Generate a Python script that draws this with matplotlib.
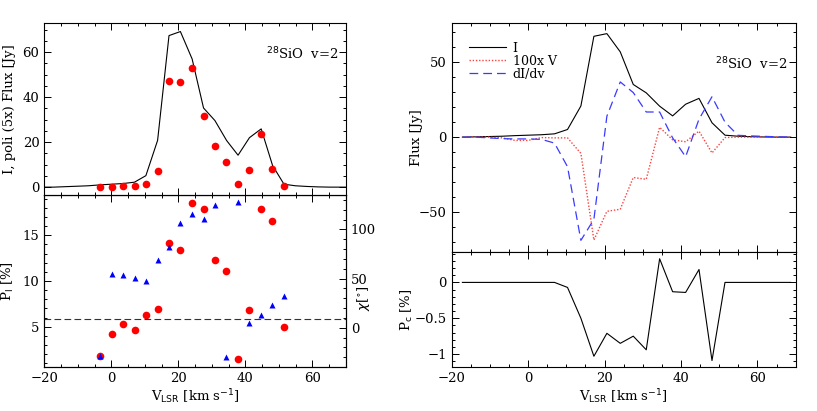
import matplotlib
matplotlib.use("Agg")
import matplotlib.pyplot as plt
from matplotlib.ticker import MultipleLocator

plt.rcParams['font.family'] = ['DejaVu Serif']
plt.rcParams['font.size'] = 9.5
plt.rcParams['axes.linewidth'] = 0.8

# --- spectrum channels (km/s) ---
v = [-17.2, -13.8, -10.3, -6.9, -3.4, 0.0, 3.5, 6.9, 10.3, 13.8, 17.2, 20.6, 24.1,
     27.5, 30.9, 34.4, 37.8, 41.2, 44.7, 48.1, 51.5, 54.9, 58.4, 61.8, 65.2, 68.7]
stokes_i = [0.0, 0.2, 0.4, 0.6, 1.0, 1.3, 1.6, 2.2, 5.1, 20.8, 67.4, 69.2, 57.0,
            35.2, 29.6, 20.7, 14.2, 22.0, 25.9, 9.6, 1.3, 0.6, 0.3, 0.1, 0.0, 0.0]
v_100x = [0.0, 0.0, 0.0, -0.5, -2.2, -2.2, -0.3, -0.5, -0.5, -10.9, -68.8, -49.6, -48.2,
          -27.0, -28.2, 6.6, -1.8, -3.1, 4.0, -10.6, -0.3, 0.0, 0.0, 0.0, 0.0, 0.0]
didv = [0.0, 0.0, -0.5, -1.0, -1.2, -1.2, -1.5, -4.0, -19.8, -69.0, -55.0, 14.0, 36.9,
        29.8, 16.8, 16.8, -0.5, -13.1, 12.0, 27.0, 10.0, 1.2, 0.8, 0.5, 0.2, 0.0]
p_circ = [0, 0, 0, 0, 0, 0, 0, 0, -0.07, -0.50, -1.03, -0.71, -0.85,
          -0.75, -0.94, 0.33, -0.13, -0.14, 0.18, -1.09, 0, 0, 0, 0, 0, 0]

# line in the left panel runs to the axis edges
v_edge = [-20.0, 70.0]
i_edge = [0.0, 0.0]

# --- linear polarization channels ---
v_pol = [-3.3, 0.1, 3.5, 7.0, 10.4, 13.8, 17.2, 20.6, 24.1, 27.5, 30.9, 34.3,
         37.8, 41.2, 44.6, 48.0, 51.4]
poli_5x = [0.1, 0.1, 0.5, 0.6, 1.5, 7.3, 47.4, 46.8, 53.0, 31.8, 18.1, 11.3,
           1.2, 7.4, 23.5, 8.2, 0.4]
p_lin = [1.8, 4.24, 5.25, 4.67, 6.27, 6.89, 14.1, 13.44, 18.5, 17.87, 12.27, 11.07,
         1.44, 6.82, 17.9, 16.53, 4.96]
chi = [-28.9, 55.1, 53.4, 50.7, 47.3, 68.4, 82.0, 107.0, 115.6, 110.2, 124.5, -30.0,
       127.9, 4.4, 12.9, 23.1, 32.0]
p_lin_ref = 5.8

xlabel = r'V$_{\rm LSR}$ [km s$^{-1}$]'
line_label = r'$^{28}$SiO  v=2'

W, H = 817, 411
fig = plt.figure(figsize=(W / 100, H / 100), dpi=100)


def box(x0, y0, x1, y1):
    return [x0 / W, 1 - y1 / H, (x1 - x0) / W, (y1 - y0) / H]


ax_lt = fig.add_axes(box(44.3, 23, 346, 195))
ax_lb = fig.add_axes(box(44.3, 195, 346, 367))
ax_rt = fig.add_axes(box(451.7, 22.7, 795.7, 252.3))
ax_rb = fig.add_axes(box(451.7, 252.3, 795.7, 367))


def style(ax, ymaj, ymin, right=True):
    ax.set_xlim(-20, 70)
    ax.xaxis.set_major_locator(MultipleLocator(20))
    ax.xaxis.set_minor_locator(MultipleLocator(5))
    ax.yaxis.set_major_locator(MultipleLocator(ymaj))
    ax.yaxis.set_minor_locator(MultipleLocator(ymin))
    ax.tick_params(which='both', direction='in', top=True, right=right, width=0.7)
    ax.tick_params(which='major', length=5)
    ax.tick_params(which='minor', length=2.5)


# --- left top: I and polarized intensity ---
ax = ax_lt
ax.plot([v_edge[0]] + v + [v_edge[1]], [i_edge[0]] + stokes_i + [i_edge[1]],
        color='black', lw=0.8)
ax.plot(v_pol, poli_5x, 'o', color='red', ms=5.5, mec='none')
style(ax, 20, 5)
ax.set_ylim(-3.5, 73)
ax.set_xticklabels([])
ax.set_ylabel('I, poli (5x) Flux [Jy]')
ax.yaxis.set_label_coords(-0.093, 0.5)
ax.text(0.975, 0.82, line_label, transform=ax.transAxes, ha='right', va='center')

# --- left bottom: P_l and chi ---
ax = ax_lb
ax.plot(v_pol, p_lin, 'o', color='red', ms=5.5, mec='none', zorder=2)
ax.axhline(p_lin_ref, color='#333333', lw=0.8, ls=(0, (6, 3)))
style(ax, 5, 1, right=False)
ax.set_ylim(0.6, 19.4)
ax.set_ylabel(r'P$_{\rm l}$ [%]')
ax.yaxis.set_label_coords(-0.093, 0.5)
ax.set_xlabel(xlabel, labelpad=2)

ax2 = ax_lb.twinx()
ax2.plot(v_pol, chi, '^', color='blue', ms=4.5, mec='none', zorder=3)
ax2.set_ylim(-40, 135)
ax2.yaxis.set_major_locator(MultipleLocator(50))
ax2.yaxis.set_minor_locator(MultipleLocator(10))
ax2.tick_params(which='both', direction='in', width=0.7)
ax2.tick_params(which='major', length=5)
ax2.tick_params(which='minor', length=2.5)
ax2.set_ylabel(r'$\chi$[$^{\circ}$]')
ax2.yaxis.set_label_coords(1.03, 0.40)
ax_lb.set_zorder(ax2.get_zorder() - 1)
ax_lb.patch.set_visible(False)

# --- right top: I, V, dI/dv ---
ax = ax_rt
ax.plot(v, stokes_i, color='black', lw=0.8, label='I')
ax.plot(v, v_100x, color='#ff4040', lw=1.0, ls=(0, (1, 1.3)), label='100x V')
ax.plot(v, didv, color='#3a3aff', lw=0.9, ls=(0, (7, 4)), label='dI/dv')
style(ax, 50, 10)
ax.set_ylim(-77, 76.5)
ax.set_xticklabels([])
ax.set_ylabel('Flux [Jy]')
ax.yaxis.set_label_coords(-0.083, 0.5)
ax.text(0.975, 0.82, line_label, transform=ax.transAxes, ha='right', va='center')
ax.legend(loc='upper left', frameon=False, fontsize=9, handlelength=3.0,
          handletextpad=0.5, labelspacing=0.0, borderaxespad=0.0, borderpad=0.0,
          bbox_to_anchor=(0.05, 0.918))

# --- right bottom: P_c ---
ax = ax_rb
ax.plot(v, p_circ, color='black', lw=0.8)
style(ax, 0.5, 0.1)
ax.set_ylim(-1.18, 0.42)
ax.set_yticks([0, -0.5, -1])
ax.set_yticklabels(['0', '\u22120.5', '\u22121'])
ax.set_ylabel(r'P$_{\rm c}$ [%]')
ax.yaxis.set_label_coords(-0.107, 0.5)
ax.set_xlabel(xlabel, labelpad=2)

fig.savefig('out.png', dpi=100)
